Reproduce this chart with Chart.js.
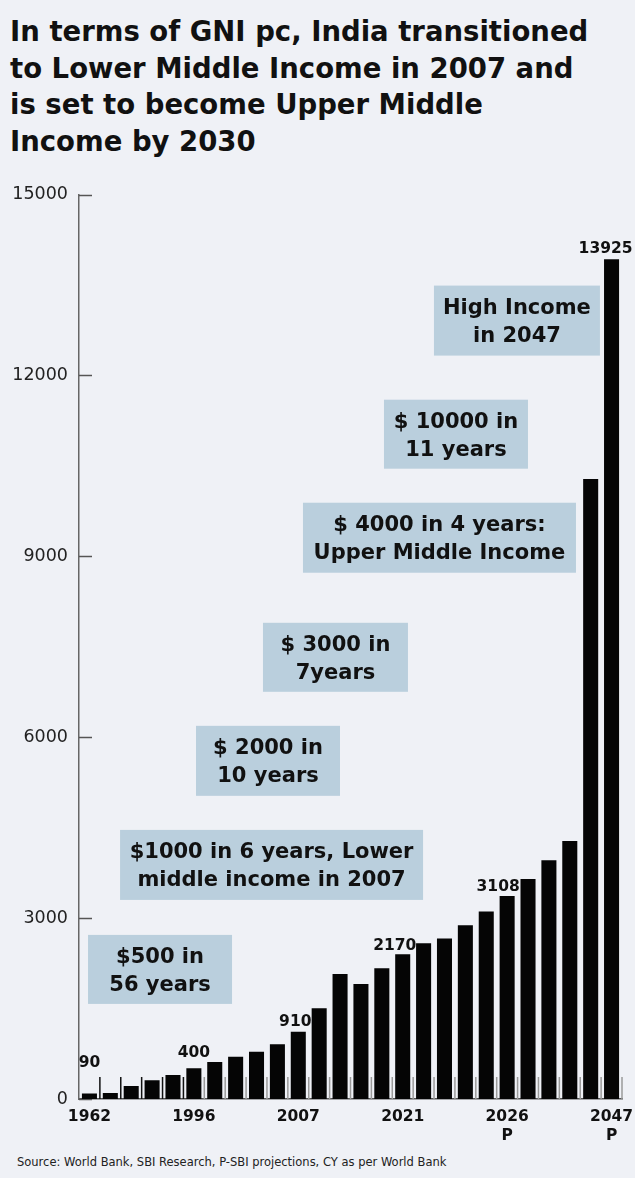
<!DOCTYPE html>
<html lang="en">
<head>
<meta charset="UTF-8">
<title>India GNI per capita</title>
<script src="https://cdn.jsdelivr.net/npm/chart.js@4.4.4/dist/chart.umd.min.js"></script>
</head>
<body style="margin:0; background:#eff1f6; width:635px; height:1178px; position:relative; overflow:hidden; font-family:'DejaVu Sans', sans-serif;">
    <div id="title" style="position:absolute; left:10px; top:13px; width:620px; font-weight:bold; font-size:27.5px; line-height:36.5px; color:#111;">
        In terms of GNI pc, India transitioned<br>to Lower Middle Income in 2007 and<br>is set to become Upper Middle<br>Income by 2030
    </div>
    <div style="position:absolute; left:0; top:173px; width:635px; height:977px;">
        <canvas id="gniChart"></canvas>
    </div>
    <div style="position:absolute; left:17px; top:1155px; font-size:11.5px; color:#222; white-space:nowrap;">
        Source: World Bank, SBI Research, P-SBI projections, CY as per World Bank
    </div>

<script>
// categories (only the years printed on the axis are named)
const years = ['1962', '', '', '', '', '1996', '', '', '', '', '2007', '', '', '', '', '2021',
               '', '', '', '', ['2026', 'P'], '', '', '', '', ['2047', 'P']];
// GNI per capita, USD
const gniValues = [90, 100, 216, 310, 400, 509, 614, 702, 785, 910, 1117, 1505, 2074, 1908,
                   2170, 2400, 2583, 2660, 2882, 3108, 3368, 3650, 3960, 4280, 10283, 13925];
const yTicks = [0, 3000, 6000, 9000, 12000, 15000];

// numbers printed above some bars
const valueNotes = ['90', '400', '910', '2170', '3108', '13925'];
const valueNoteBars = [0, 5, 10, 15, 20, 25];

// call-out boxes
const noteTexts = [
    ['$500 in', '56 years'],
    ['$1000 in 6 years, Lower', 'middle income in 2007'],
    ['$ 2000 in', '10 years'],
    ['$ 3000 in', '7years'],
    ['$ 4000 in 4 years:', 'Upper Middle Income'],
    ['$ 10000 in', '11 years'],
    ['High Income', 'in 2047']
];

// placement of the call-outs (x in bar index, y in axis units, size in px)
const notePlace = [
    { x: 3.38, y: 2149, w: 144, h: 69 },
    { x: 8.72, y: 3882, w: 303, h: 70 },
    { x: 8.55, y: 5608, w: 144, h: 70 },
    { x: 11.78, y: 7325, w: 145, h: 69 },
    { x: 16.76, y: 9308, w: 273, h: 70 },
    { x: 17.55, y: 11025, w: 144, h: 69 },
    { x: 20.47, y: 12909, w: 166, h: 70 }
];
const valueNoteShift = [{ dx: 0, dy: 25 }, { dx: 0, dy: 10 }, { dx: -3, dy: 4 },
                        { dx: -8, dy: 3 }, { dx: -9, dy: 3 }, { dx: -6, dy: 5 }];

const FONT = '"DejaVu Sans", sans-serif';

// short marks: inward y ticks and little separators between the bars
const marksPlugin = {
    id: 'marks',
    beforeDatasetsDraw(chart) {
        const { ctx, scales: { x, y } } = chart;
        ctx.save();
        ctx.lineWidth = 1.5;
        for (let k = 1; k <= years.length; k++) {
            const px = (x.getPixelForValue(k - 1) + x.getPixelForValue(k)) / 2;
            ctx.strokeStyle = k <= 5 ? '#111' : '#9a9a9a';
            ctx.beginPath();
            ctx.moveTo(px, y.bottom);
            ctx.lineTo(px, y.bottom - 22);
            ctx.stroke();
        }
        ctx.strokeStyle = '#555';
        yTicks.forEach(v => {
            const py = Math.round(y.getPixelForValue(v)) + 0.5;
            ctx.beginPath();
            ctx.moveTo(x.left, py);
            ctx.lineTo(x.left + 13, py);
            ctx.stroke();
        });
        ctx.restore();
    },
    afterDatasetsDraw(chart) {
        const { ctx, scales: { x, y } } = chart;
        ctx.save();
        ctx.textAlign = 'center';

        // numbers above bars
        ctx.font = 'bold 15.5px ' + FONT;
        ctx.fillStyle = '#111';
        ctx.textBaseline = 'bottom';
        valueNotes.forEach((txt, i) => {
            const b = valueNoteBars[i];
            const px = x.getPixelForValue(b) + valueNoteShift[i].dx;
            const py = y.getPixelForValue(gniValues[b]) - valueNoteShift[i].dy;
            ctx.fillText(txt, px, py + 2);
        });

        // call-out boxes
        ctx.font = 'bold 21px ' + FONT;
        ctx.textBaseline = 'middle';
        noteTexts.forEach((lines, i) => {
            const p = notePlace[i];
            const cx = x.getPixelForValue(p.x);
            const cy = y.getPixelForValue(p.y);
            ctx.fillStyle = '#bacfdd';
            ctx.fillRect(cx - p.w / 2, cy - p.h / 2, p.w, p.h);
            ctx.fillStyle = '#111';
            ctx.fillText(lines[0], cx, cy - 12);
            ctx.fillText(lines[1], cx, cy + 16);
        });
        ctx.restore();
    }
};

new Chart(document.getElementById('gniChart'), {
    type: 'bar',
    data: {
        labels: years,
        datasets: [{
            data: gniValues,
            backgroundColor: '#050505',
            barPercentage: 0.72,
            categoryPercentage: 1
        }]
    },
    options: {
        responsive: true,
        maintainAspectRatio: false,
        animation: false,
        layout: { padding: { top: 8, right: 13, left: 0, bottom: 0 } },
        plugins: { legend: { display: false }, tooltip: { enabled: false } },
        scales: {
            x: {
                grid: { display: false, drawTicks: false },
                border: { display: true, color: '#555', width: 1.5 },
                ticks: {
                    autoSkip: false,
                    maxRotation: 0,
                    padding: 8,
                    color: '#111',
                    font: { family: FONT, size: 15.5, weight: 'bold', lineHeight: 1.25 }
                },
                afterFit: s => { s.height = 51; s.paddingLeft = 0; s.paddingRight = 0; }
            },
            y: {
                min: 0,
                max: 15000,
                grid: { display: false, drawTicks: false },
                border: { display: true, color: '#666', width: 1.5 },
                ticks: {
                    stepSize: 3000,
                    padding: 11,
                    color: '#222',
                    font: { family: FONT, size: 17.5 },
                    callback: v => String(v)
                },
                afterFit: s => { s.width = 79; }
            }
        }
    },
    plugins: [marksPlugin]
});
</script>
</body>
</html>
